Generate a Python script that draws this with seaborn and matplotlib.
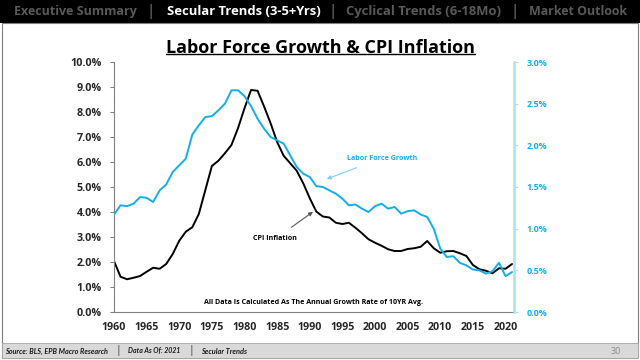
import numpy as np
import pandas as pd
import matplotlib
matplotlib.use("Agg")
import matplotlib.pyplot as plt
import seaborn as sns
from matplotlib.patches import Rectangle
from matplotlib.lines import Line2D
from matplotlib.ticker import FuncFormatter

years = list(range(1960, 2022))
cpi_inflation = [2.04, 1.41, 1.31, 1.37, 1.44, 1.61, 1.77, 1.73, 1.92, 2.32,
                 2.85, 3.21, 3.39, 3.92, 4.88, 5.84, 6.05, 6.35, 6.68, 7.35,
                 8.15, 8.88, 8.85, 8.22, 7.55, 6.80, 6.25, 5.95, 5.65, 5.15,
                 4.55, 4.02, 3.82, 3.78, 3.57, 3.52, 3.57, 3.37, 3.15, 2.91,
                 2.77, 2.65, 2.51, 2.44, 2.44, 2.52, 2.55, 2.61, 2.84, 2.55,
                 2.37, 2.43, 2.44, 2.35, 2.24, 1.88, 1.71, 1.65, 1.55, 1.75,
                 1.73, 1.92]
labor_force_growth = [1.17, 1.28, 1.27, 1.30, 1.38, 1.37, 1.32, 1.46, 1.53, 1.68,
                      1.76, 1.84, 2.13, 2.24, 2.34, 2.35, 2.42, 2.50, 2.66, 2.66,
                      2.59, 2.47, 2.32, 2.20, 2.10, 2.06, 2.02, 1.88, 1.74, 1.66,
                      1.62, 1.51, 1.50, 1.46, 1.42, 1.36, 1.28, 1.29, 1.24, 1.20,
                      1.27, 1.30, 1.24, 1.26, 1.18, 1.21, 1.22, 1.17, 1.14, 1.00,
                      0.76, 0.66, 0.67, 0.59, 0.56, 0.51, 0.50, 0.46, 0.49, 0.59,
                      0.43, 0.48]
x_ticks = list(range(1960, 2021, 5))
left_ticks = [0, 1, 2, 3, 4, 5, 6, 7, 8, 9, 10]
right_ticks = [0, 0.5, 1.0, 1.5, 2.0, 2.5, 3.0]

title = "Labor Force Growth & CPI Inflation"
nav_items = ["Executive Summary", "Secular Trends (3-5+Yrs)", "Cyclical Trends (6-18Mo)", "Market Outlook"]
footer_items = ["Source: BLS, EPB Macro Research", "Data As Of: 2021", "Secular Trends"]
page_no = "30"

df = pd.DataFrame({"year": years, "cpi": cpi_inflation, "lab": labor_force_growth})

sns.set_style("white")
plt.rcParams['font.family'] = ['Open Sans', 'DejaVu Sans']

BLUE = "#12aeea"
fig = plt.figure(figsize=(6.4, 3.6), dpi=100)
fig.patch.set_facecolor("white")
renderer = fig.canvas.get_renderer()


def fit(txt, width_px):
    """Scale a text's font size so its rendered width matches width_px."""
    w = txt.get_window_extent(renderer).width
    if w > 0:
        txt.set_fontsize(txt.get_fontsize() * width_px / w)
    return txt


def size_for(s, width_px, **kw):
    t = fig.text(0, 0, s, fontsize=10, **kw)
    w = t.get_window_extent(renderer).width
    t.remove()
    return 10 * width_px / w


def ftext(x0, x1, y, s, **kw):
    t = fig.text((x0 + x1) / 2 / 640, 1 - y / 360, s, ha="center", va="center", **kw)
    return fit(t, x1 - x0)


# header band
fig.patches.append(Rectangle((0, 1 - 23/360), 1, 23/360, transform=fig.transFigure,
                             facecolor="black", edgecolor="none", zorder=0))
# outer frame
fig.patches.append(Rectangle((1.5/640, 2/360), 636/640, (360 - 23 - 2)/360, transform=fig.transFigure,
                             facecolor="none", edgecolor="#7f7f7f", linewidth=0.8, zorder=1))
# footer band
fig.patches.append(Rectangle((1.5/640, 2/360), 636/640, 15/360, transform=fig.transFigure,
                             facecolor="#d9d9d9", edgecolor="#a6a6a6", linewidth=0.6, zorder=1))

nav_span = [(13.5, 136.7), (166.5, 320.4), (346, 501), (528.6, 627.3)]
nav_col = ["#595959", "white", "#595959", "#595959"]
for t, (a, b), c in zip(nav_items, nav_span, nav_col):
    ftext(a, b, 11.5, t, color=c, fontsize=11, fontweight="bold")
for xx in [150, 333, 515]:
    fig.text(xx/640, 1 - 11.5/360, "|", color="#7f7f7f", fontsize=11, va="center", ha="center")

foot_span = [(5, 108), (128, 181), (201, 247)]
for t, (a, b) in zip(footer_items, foot_span):
    ftext(a, b, 351, t, fontsize=6, fontstyle="italic", fontweight="bold", color="#1a1a1a",
          family=["Lato", "DejaVu Sans"])
for xx in [118, 191]:
    fig.text(xx/640, 1 - 351/360, "|", fontsize=7, fontstyle="italic", color="#262626",
             va="center", ha="center")
fig.text(616/640, 1 - 351/360, page_no, fontsize=6.5, color="#8c8c8c", va="center", ha="center")

ax = fig.add_axes([114/640, 48/360, 400/640, 250/360])
ax2 = ax.twinx()

sns.lineplot(data=df, x="year", y="cpi", ax=ax, color="black", linewidth=1.4)
sns.lineplot(data=df, x="year", y="lab", ax=ax2, color=BLUE, linewidth=1.4)

ax.set_xlim(1960, 2021.3)
ax.set_ylim(0, 10)
ax2.set_ylim(0, 3)
ax.set_xticks(x_ticks)
ax.set_yticks(left_ticks)
ax2.set_yticks(right_ticks)
ax.yaxis.set_major_formatter(FuncFormatter(lambda v, p: f"{v:.1f}%"))
ax2.yaxis.set_major_formatter(FuncFormatter(lambda v, p: f"{v:.1f}%"))
ax.set_xlabel("")
ax.set_ylabel("")
ax2.set_ylabel("")

for a in (ax, ax2):
    for s in a.spines.values():
        s.set_visible(False)
ax.spines["left"].set_visible(True)
ax.spines["left"].set_color("#808080")
ax.spines["left"].set_linewidth(0.8)
ax.spines["bottom"].set_visible(True)
ax.spines["bottom"].set_color("#808080")
ax.spines["bottom"].set_linewidth(0.8)
ax2.spines["right"].set_visible(True)
ax2.spines["right"].set_color("#a9e2f7")
ax2.spines["right"].set_linewidth(1.8)

ly = size_for("10.0%", 31, fontweight="bold")
lx = size_for("1960", 24.5, fontweight="bold")
lr = size_for("3.0%", 20.5, fontweight="bold")
ax.tick_params(axis="y", which="major", length=3, width=0.8, color="#808080", direction="out",
               labelsize=ly, pad=6)
ax.tick_params(axis="x", which="major", length=3, width=0.8, color="#808080", direction="out",
               labelsize=lx, pad=4)
ax2.tick_params(axis="y", which="major", length=3, width=0.8, color="#a9e2f7", direction="out",
                labelsize=lr, labelcolor=BLUE, pad=6)
for lab in ax.get_xticklabels() + ax.get_yticklabels() + ax2.get_yticklabels():
    lab.set_fontweight("bold")
ax.grid(False)
ax2.grid(False)

a1 = ax.annotate("Labor Force Growth", xy=(1992.6, 5.32), xytext=(2001.1, 6.16),
                 fontsize=7, fontweight="bold", color=BLUE, ha="center", va="center",
                 arrowprops=dict(arrowstyle="-|>", color="#7fd0f0", lw=0.8, mutation_scale=6,
                                 shrinkA=6, shrinkB=0))
a2 = ax.annotate("CPI Inflation", xy=(1990.5, 4.01), xytext=(1984.7, 2.92),
                 fontsize=7, fontweight="bold", color="black", ha="center", va="center",
                 arrowprops=dict(arrowstyle="-|>", color="#595959", lw=0.8, mutation_scale=6,
                                 shrinkA=6, shrinkB=0))
note = ax.text(1990.5, 0.4, "All Data Is Calculated As The Annual Growth Rate of 10YR Avg.",
               fontsize=6.5, fontweight="bold", ha="center", va="center", color="black")
fit(a1, 75)
fit(a2, 49)
fit(note, 219)

tt = ftext(165, 475, 48, title, fontsize=16, fontweight="bold", color="black")
bb = tt.get_window_extent(renderer).transformed(fig.transFigure.inverted())
fig.add_artist(Line2D([bb.x0, bb.x1], [bb.y0 + 0.008, bb.y0 + 0.008], transform=fig.transFigure,
                      color="black", linewidth=1.0))

fig.savefig("out.png", dpi=100)
